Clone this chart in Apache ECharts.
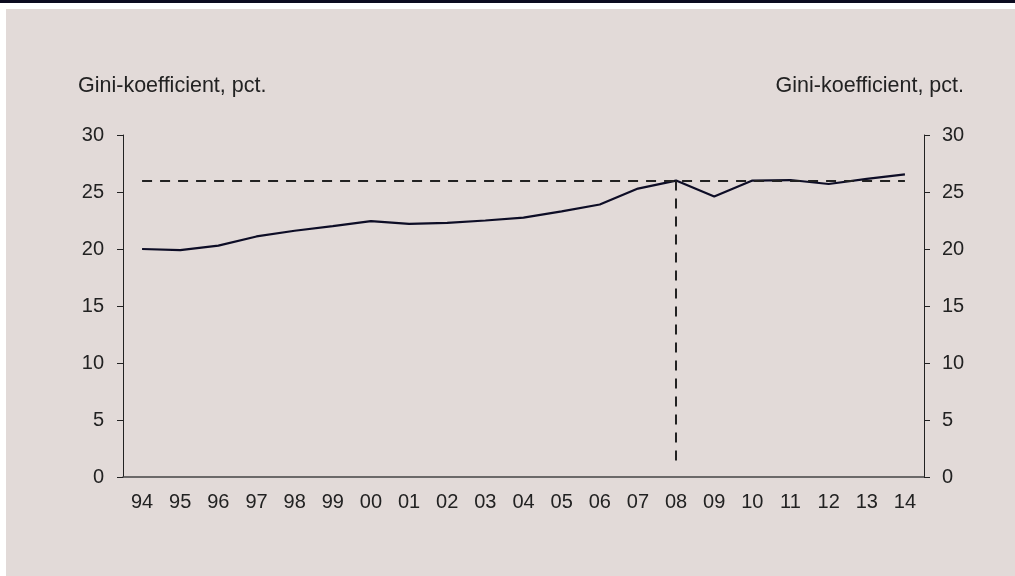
<!DOCTYPE html>
<html>
<head>
<meta charset="utf-8">
<script src="https://cdn.jsdelivr.net/npm/echarts@6/dist/echarts.min.js"></script>
<style>
  html, body { margin: 0; padding: 0; background: #ffffff; }
  #topbar { position: absolute; left: 0; top: 0; width: 1015px; height: 3px; background: #0b0b1f; }
  #panel { position: absolute; left: 6px; top: 9px; width: 1009px; height: 567px; background: #e2dad8; }
  #chart { position: absolute; left: 0; top: 0; width: 1015px; height: 576px; }
</style>
</head>
<body>
<div id="topbar"></div>
<div id="panel"></div>
<div id="chart"></div>
<script>
// årstal
const years = ["94", "95", "96", "97", "98", "99", "00", "01", "02", "03", "04",
  "05", "06", "07", "08", "09", "10", "11", "12", "13", "14"];
// Gini-koefficient, pct.
const gini = [20.0, 19.9, 20.3, 21.1, 21.6, 22.0, 22.45, 22.2, 22.3, 22.5, 22.75,
  23.3, 23.9, 25.3, 26.0, 24.6, 26.0, 26.05, 25.7, 26.15, 26.55];
const refLevel = 26.0;   // niveau i 2008
const refYear = "08";
const refBottom = 1;     // hvor den lodrette streg slutter
const yTicks = [0, 5, 10, 15, 20, 25, 30];

const chart = echarts.init(document.getElementById("chart"), null, { renderer: "canvas" });

const font = "Liberation Sans, Arial, sans-serif";
const txt = { color: "#222222", fontFamily: font, fontSize: 20 };
const titleStyle = { fill: "#222222", fontFamily: font, fontSize: 21.5, text: "Gini-koefficient, pct." };

const yAxisBase = {
  type: "value",
  min: yTicks[0],
  max: yTicks[yTicks.length - 1],
  interval: 5,
  axisLine: { show: true, lineStyle: { color: "#222222", width: 1 } },
  axisTick: { show: true, length: 6, lineStyle: { color: "#222222" } },
  splitLine: { show: false },
};

const option = {
  backgroundColor: "transparent",
  animation: false,
  grid: { left: 123, right: 91, top: 135, bottom: 99, containLabel: false },
  graphic: [
    { type: "text", left: 78, top: 75, style: titleStyle },
    { type: "text", right: 51, top: 75, style: titleStyle },
  ],
  xAxis: {
    type: "category",
    data: years,
    boundaryGap: true,
    axisLine: { show: true, lineStyle: { color: "#444444", width: 1.5 } },
    axisTick: { show: false },
    axisLabel: Object.assign({ margin: 15, interval: 0 }, txt),
  },
  yAxis: [
    Object.assign({}, yAxisBase, { position: "left", axisLabel: Object.assign({ margin: 19 }, txt) }),
    Object.assign({}, yAxisBase, { position: "right", axisLabel: Object.assign({ margin: 18 }, txt) }),
  ],
  series: [
    {
      type: "line",
      data: gini,
      symbol: "none",
      lineStyle: { color: "#0d0d26", width: 2.2 },
      markLine: {
        silent: true,
        symbol: "none",
        label: { show: false },
        lineStyle: { color: "#222222", type: [10, 8], width: 2 },
        data: [
          [{ coord: [years[0], refLevel] }, { coord: [years[years.length - 1], refLevel] }],
          [{ coord: [refYear, refLevel] }, { coord: [refYear, refBottom] }],
        ],
      },
    },
  ],
};

chart.setOption(option);
</script>
</body>
</html>
